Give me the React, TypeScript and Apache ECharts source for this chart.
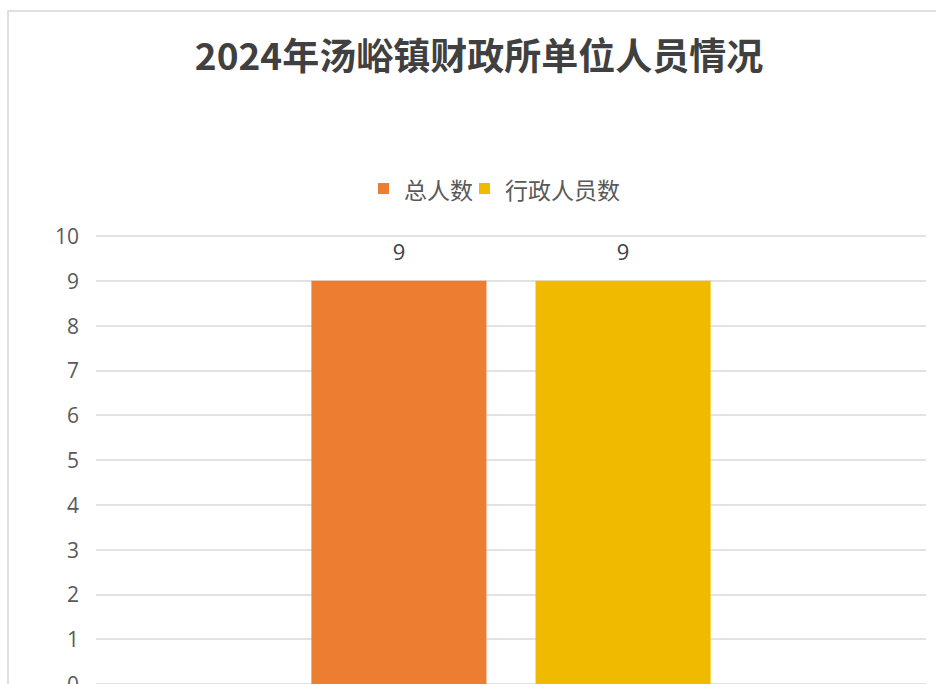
import React, { useEffect, useRef } from "react";
import * as echarts from "echarts";

const titleText = "2024年汤峪镇财政所单位人员情况";
const categories = ["汤峪镇财政所"];
const seriesNames = ["总人数", "行政人员数"];
const totalStaff = [9];
const adminStaff = [9];
const yTicks = { min: 0, max: 10, interval: 1 };

export default function App() {
  const ref = useRef<HTMLDivElement>(null);
  useEffect(() => {
    if (!ref.current) return;
    const chart = echarts.init(ref.current, undefined, { renderer: "svg" });
    const numFont = "'Open Sans', 'Noto Sans', sans-serif";
    const cjkFont = "'Noto Sans CJK SC', sans-serif";
    chart.setOption({
      animation: false,
      backgroundColor: "#ffffff",
      graphic: [
        {
          type: "rect",
          shape: { x: 8, y: 11, width: 1200, height: 1200 },
          style: { fill: "none", stroke: "#D6D6D6", lineWidth: 1.5 },
          silent: true,
          z: 0,
        },
        {
          type: "text",
          x: 479,
          y: 54,
          style: {
            text: titleText,
            fontFamily: cjkFont,
            fontWeight: "bold",
            fontSize: 37,
            fill: "#404040",
            textAlign: "center",
            textVerticalAlign: "middle",
          },
          z: 10,
        },
      ],
      legend: {
        left: 373,
        top: 172,
        itemWidth: 11,
        itemHeight: 11,
        itemGap: 6,
        icon: "rect",
        textStyle: {
          fontFamily: cjkFont,
          fontSize: 23,
          color: "#595959",
          padding: [0, 0, 0, 10],
        },
        data: seriesNames,
      },
      grid: {
        left: 96,
        right: 10,
        top: 236,
        bottom: 0,
        containLabel: false,
        outerBoundsMode: "none",
      },
      xAxis: {
        type: "category",
        data: categories,
        axisLine: { show: false },
        axisTick: { show: false },
        axisLabel: { show: false },
      },
      yAxis: {
        type: "value",
        min: yTicks.min,
        max: yTicks.max,
        interval: yTicks.interval,
        axisLine: { show: false },
        axisTick: { show: false },
        axisLabel: {
          fontFamily: numFont,
          fontSize: 21,
          color: "#595959",
          margin: 17,
        },
        splitLine: { lineStyle: { color: "#D9D9D9", width: 1.5 } },
      },
      series: [
        {
          name: seriesNames[0],
          type: "bar",
          data: totalStaff,
          barGap: "28%",
          barCategoryGap: "51.9%",
          itemStyle: { color: "#ED7D31" },
          label: {
            show: true,
            position: "top",
            distance: 19,
            fontFamily: numFont,
            fontSize: 22,
            color: "#404040",
          },
        },
        {
          name: seriesNames[1],
          type: "bar",
          data: adminStaff,
          barGap: "28%",
          barCategoryGap: "51.9%",
          itemStyle: { color: "#F0BA00" },
          label: {
            show: true,
            position: "top",
            distance: 19,
            fontFamily: numFont,
            fontSize: 22,
            color: "#404040",
          },
        },
      ],
    });
    return () => chart.dispose();
  }, []);
  return (
    <div
      ref={ref}
      style={{ position: "fixed", left: 0, top: 0, width: 936, height: 684 }}
    />
  );
}
